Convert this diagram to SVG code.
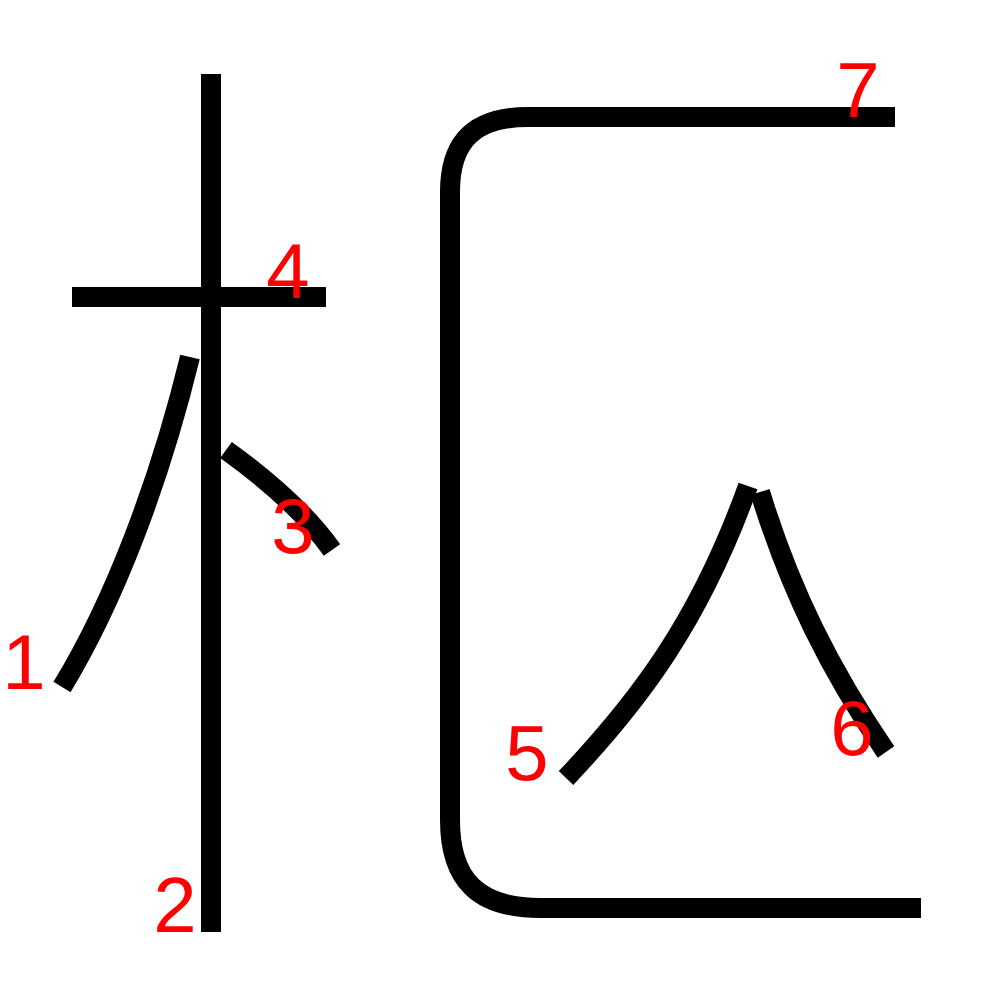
<svg xmlns="http://www.w3.org/2000/svg" width="1000" height="1000" viewBox="0 0 1000 1000">
<style>
.s{fill:none;stroke:#000;stroke-width:20}
.n{fill:#f00;font-family:"Liberation Sans",Arial,sans-serif;font-size:78px;text-anchor:middle}
</style>
<rect width="1000" height="1000" fill="#fff"/>
<g id="strokes">
<path id="s1" class="s" d="M190,357 C160,480 115,600 62,687"/>
<path id="s2" class="s" d="M211,74 L211,932"/>
<path id="s3" class="s" d="M226,450 C265,478 305,512 332,550"/>
<path id="s4" class="s" d="M72,297 L326,297"/>
<path id="s5" class="s" d="M748,486 C700,620 640,700 566,778"/>
<path id="s6" class="s" d="M760,492 C790,590 830,670 886,752"/>
<path id="s7" class="s" d="M895,117 L528,117 C475,117 450,140 450,192 L450,820 C450,880 478,908 540,908 L921,908"/>
</g>
<g id="labels">
<text class="n" x="24" y="689">1</text>
<text class="n" x="175" y="932">2</text>
<text class="n" x="293" y="553">3</text>
<text class="n" x="288" y="298">4</text>
<text class="n" x="527" y="780">5</text>
<text class="n" x="852" y="755">6</text>
<text class="n" x="858" y="117">7</text>
</g>
</svg>
